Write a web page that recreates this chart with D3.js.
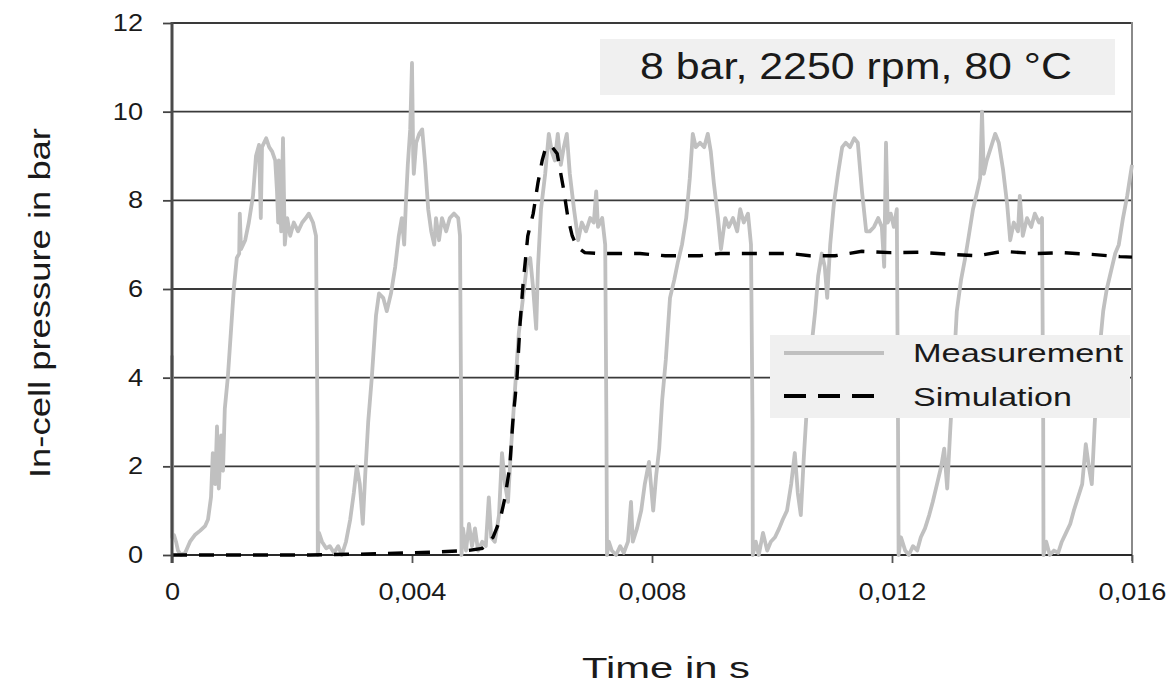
<!DOCTYPE html>
<html>
<head>
<meta charset="utf-8">
<script src="https://cdn.jsdelivr.net/npm/d3@7"></script>
<style>
  html, body { margin: 0; padding: 0; background: #ffffff; }
  svg { display: block; }
  text { font-family: "Liberation Sans", Arial, sans-serif; fill: #1a1a1a; }
</style>
</head>
<body>
<svg id="chart" width="1175" height="687"></svg>
<script>
// ---------------- DATA ----------------
// time in ms, pressure in bar
const measurement = [
  [0,4.5],[0.005,0.4],[0.033,0.45],[0.067,0.3],[0.1,0.1],[0.15,0.0],[0.22,0.05],[0.3,0.3],[0.38,0.45],[0.47,0.55],
  [0.55,0.65],[0.6,0.8],[0.65,1.3],[0.68,2.3],[0.72,1.6],[0.75,2.9],[0.78,1.5],[0.82,2.7],[0.85,1.9],[0.88,3.3],
  [0.93,4.0],[0.98,5.0],[1.03,6.0],[1.08,6.7],[1.12,6.8],[1.13,7.7],[1.15,6.9],[1.22,7.1],[1.28,7.5],[1.35,8.1],
  [1.4,9.0],[1.45,9.25],[1.48,7.6],[1.5,9.2],[1.57,9.4],[1.62,9.2],[1.67,9.1],[1.72,8.9],[1.75,8.2],[1.77,7.5],
  [1.78,8.9],[1.82,7.3],[1.85,9.4],[1.88,7.0],[1.92,7.6],[1.97,7.2],[2.03,7.5],[2.1,7.3],[2.17,7.5],[2.23,7.6],
  [2.28,7.7],[2.35,7.5],[2.4,7.2],[2.425,3.0],[2.43,0.0],
  [2.45,0.5],[2.5,0.3],[2.57,0.15],[2.63,0.2],[2.7,0.05],[2.77,0.2],[2.83,0.0],[2.9,0.3],[2.97,0.8],[3.03,1.4],
  [3.08,2.0],[3.13,1.6],[3.18,0.7],[3.22,1.8],[3.27,3.0],[3.33,4.0],[3.4,5.4],[3.45,5.9],[3.52,5.8],[3.58,5.5],
  [3.65,5.9],[3.72,6.5],[3.78,7.2],[3.83,7.6],[3.87,7.0],[3.9,8.0],[3.93,8.8],[3.97,9.6],[4.0,11.1],[4.02,9.0],
  [4.03,8.6],[4.07,9.3],[4.12,9.5],[4.17,9.6],[4.22,8.8],[4.27,7.8],[4.32,7.3],[4.37,7.0],[4.4,7.6],[4.45,7.1],
  [4.5,7.6],[4.57,7.3],[4.63,7.6],[4.7,7.7],[4.77,7.6],[4.8,7.2],[4.82,3.0],[4.825,0.0],
  [4.85,0.6],[4.9,0.1],[4.95,0.7],[5.0,0.2],[5.05,0.6],[5.1,0.1],[5.17,0.3],[5.23,0.2],[5.28,1.3],[5.32,0.4],
  [5.38,0.3],[5.45,0.9],[5.5,2.3],[5.55,1.6],[5.6,1.2],[5.65,2.4],[5.72,3.8],[5.78,5.0],[5.85,5.8],[5.92,6.6],
  [5.97,6.7],[6.02,6.0],[6.07,5.1],[6.1,6.5],[6.15,7.8],[6.22,8.6],[6.28,9.5],[6.33,9.1],[6.38,8.9],[6.43,9.5],
  [6.48,8.8],[6.53,9.2],[6.58,9.5],[6.63,8.6],[6.7,7.8],[6.77,7.1],[6.83,7.5],[6.9,7.3],[6.97,7.6],[7.03,7.5],
  [7.07,8.2],[7.1,7.4],[7.17,7.6],[7.22,7.0],[7.24,3.0],[7.25,0.0],
  [7.28,0.3],[7.33,0.1],[7.4,0.0],[7.47,0.2],[7.53,0.05],[7.6,0.3],[7.65,1.2],[7.68,0.3],[7.75,0.6],[7.82,1.0],
  [7.88,1.6],[7.95,2.1],[8.02,1.0],[8.07,1.8],[8.12,2.4],[8.17,3.5],[8.23,4.4],[8.3,5.8],[8.37,6.2],[8.43,6.6],
  [8.5,7.0],[8.57,7.6],[8.63,8.5],[8.68,9.5],[8.73,9.2],[8.8,9.3],[8.87,9.2],[8.93,9.5],[8.98,9.1],[9.03,8.4],
  [9.1,7.6],[9.15,6.9],[9.22,7.6],[9.28,7.4],[9.35,7.6],[9.42,7.3],[9.47,7.8],[9.53,7.5],[9.6,7.7],[9.65,7.0],
  [9.675,3.0],[9.68,0.0],
  [9.73,0.3],[9.78,0.0],[9.85,0.5],[9.92,0.1],[9.98,0.3],[10.05,0.4],[10.12,0.6],[10.18,0.8],[10.25,1.0],[10.32,1.6],
  [10.38,2.3],[10.43,1.4],[10.48,0.9],[10.53,2.2],[10.58,3.3],[10.65,4.6],[10.72,5.5],[10.77,6.3],[10.83,6.8],[10.88,6.5],
  [10.92,5.8],[10.97,7.0],[11.03,7.9],[11.1,8.6],[11.17,9.2],[11.23,9.3],[11.3,9.2],[11.37,9.4],[11.43,9.3],[11.5,8.2],
  [11.57,7.3],[11.63,7.3],[11.7,7.4],[11.77,7.6],[11.83,7.4],[11.87,6.5],[11.9,9.3],[11.93,7.5],[11.98,7.7],[12.03,7.4],
  [12.08,7.8],[12.1,3.0],[12.11,0.0],
  [12.15,0.4],[12.22,0.1],[12.28,0.0],[12.35,0.2],[12.42,0.1],[12.48,0.4],[12.55,0.6],[12.62,0.9],[12.68,1.2],[12.75,1.6],
  [12.82,2.0],[12.87,2.4],[12.92,1.5],[12.97,2.8],[13.02,4.0],[13.08,5.5],[13.15,6.2],[13.22,6.7],[13.28,7.2],[13.35,7.8],
  [13.42,8.2],[13.47,8.5],[13.5,10.0],[13.53,8.6],[13.58,8.9],[13.65,9.2],[13.72,9.5],[13.78,9.3],[13.85,8.7],[13.92,7.9],
  [13.97,7.1],[14.03,7.5],[14.1,7.3],[14.13,8.1],[14.18,7.2],[14.25,7.6],[14.32,7.4],[14.38,7.7],[14.45,7.5],[14.5,7.6],
  [14.52,3.0],[14.525,0.0],
  [14.57,0.3],[14.63,0.0],[14.7,0.1],[14.77,0.05],[14.83,0.3],[14.9,0.5],[14.97,0.7],[15.03,1.0],[15.1,1.3],[15.17,1.6],
  [15.23,2.5],[15.28,2.0],[15.33,1.6],[15.38,3.0],[15.45,4.5],[15.52,5.5],[15.58,6.0],[15.65,6.4],[15.72,6.8],[15.78,7.0],
  [15.85,7.6],[15.92,8.1],[16.0,8.8]
];

const simulation = [
  [0,0.0],[2.3,0.0],[3.13,0.02],[3.97,0.05],[4.47,0.07],[4.92,0.1],[5.17,0.15],[5.35,0.4],[5.47,0.8],[5.55,1.3],
  [5.63,2.0],[5.68,3.0],[5.75,4.0],[5.8,5.2],[5.85,6.1],[5.93,7.2],[6.02,7.7],[6.1,8.4],[6.17,8.9],[6.23,9.2],
  [6.32,9.23],[6.42,9.05],[6.52,8.3],[6.6,7.6],[6.67,7.2],[6.75,6.95],[6.88,6.82],[7.13,6.8],[7.8,6.8],[8.22,6.75],
  [8.8,6.75],[9.13,6.8],[9.8,6.8],[10.3,6.8],[10.63,6.75],[11.05,6.75],[11.5,6.85],[11.97,6.82],[12.47,6.83],[12.97,6.78],
  [13.43,6.75],[13.85,6.85],[14.38,6.8],[14.83,6.82],[15.33,6.78],[15.8,6.73],[16.0,6.72]
];

const xTickValues = [0, 0.004, 0.008, 0.012, 0.016];
const xTickLabels = ["0", "0,004", "0,008", "0,012", "0,016"];
const yTickValues = [0, 2, 4, 6, 8, 10, 12];
const yTickLabels = ["0", "2", "4", "6", "8", "10", "12"];
const seriesNames = ["Measurement", "Simulation"];
const titleText = "8 bar, 2250 rpm, 80 °C";
const xTitle = "Time in s";
const yTitle = "In-cell pressure in bar";

// ---------------- LAYOUT ----------------
const svg = d3.select("#chart");
const X0 = 172, X1 = 1132, Y0 = 555, Y1 = 23;
const x = d3.scaleLinear().domain([0, 0.016]).range([X0, X1]);
const y = d3.scaleLinear().domain([0, 12]).range([Y0, Y1]);

// horizontal gridlines
svg.append("g").selectAll("line")
  .data(yTickValues.filter(v => v > 0))
  .join("line")
  .attr("x1", X0).attr("x2", X1)
  .attr("y1", d => y(d)).attr("y2", d => y(d))
  .attr("stroke", "#3a3a3a").attr("stroke-width", 1.8);

// right border
svg.append("line").attr("x1", X1).attr("x2", X1).attr("y1", Y1 - 1).attr("y2", Y0 + 6)
  .attr("stroke", "#8a8a8a").attr("stroke-width", 2);

// Y axis
const yAxis = svg.append("g").attr("transform", `translate(${X0},0)`)
  .call(d3.axisLeft(y).tickValues(yTickValues).tickFormat((d, i) => yTickLabels[i]).tickSize(9).tickPadding(20));
yAxis.select(".domain").remove();
yAxis.selectAll(".tick line").attr("stroke", "#444").attr("stroke-width", 1.8);
yAxis.selectAll(".tick text").attr("font-size", 23).attr("fill", "#1a1a1a")
  .style("font-family", "'Liberation Sans', Arial, sans-serif");

// X axis
const xAxis = svg.append("g").attr("transform", `translate(0,${Y0})`)
  .call(d3.axisBottom(x).tickValues(xTickValues).tickFormat((d, i) => xTickLabels[i]).tickSize(8));
xAxis.select(".domain").remove();
xAxis.selectAll(".tick line").attr("stroke", "#555").attr("stroke-width", 1.8);
xAxis.selectAll(".tick text").attr("font-size", 23).attr("fill", "#1a1a1a")
  .attr("y", 45).attr("dy", 0)
  .style("font-family", "'Liberation Sans', Arial, sans-serif");

// bottom axis line
svg.append("line").attr("x1", X0).attr("x2", X1).attr("y1", Y0).attr("y2", Y0)
  .attr("stroke", "#2a2a2a").attr("stroke-width", 2);

// stretch tick labels horizontally
svg.selectAll(".tick text").each(function () {
  const w = this.getComputedTextLength();
  d3.select(this).attr("textLength", w * 1.18).attr("lengthAdjust", "spacingAndGlyphs");
});

// Lines
const line = d3.line().x(d => x(d[0] / 1000)).y(d => y(d[1]));
svg.append("path").datum(measurement)
  .attr("d", line).attr("fill", "none")
  .attr("stroke", "#c0c0c0").attr("stroke-width", 3.8).attr("stroke-linejoin", "round");
svg.append("path").datum(simulation)
  .attr("d", line).attr("fill", "none")
  .attr("stroke", "#000").attr("stroke-width", 3.4).attr("stroke-dasharray", "15,12");

// left axis line (on top)
svg.append("line").attr("x1", X0).attr("x2", X0).attr("y1", Y1 - 1).attr("y2", Y0 + 8)
  .attr("stroke", "#4a4a4a").attr("stroke-width", 3);

// Title box
svg.append("rect").attr("x", 600).attr("y", 39).attr("width", 515).attr("height", 56).attr("fill", "#f0f0f0");
svg.append("text").attr("x", 856).attr("y", 79).attr("text-anchor", "middle")
  .attr("font-size", 37).attr("textLength", 432).attr("lengthAdjust", "spacingAndGlyphs")
  .text(titleText);

// Legend
const lg = svg.append("g");
lg.append("rect").attr("x", 770).attr("y", 335).attr("width", 360).attr("height", 83).attr("fill", "#f0f0f0");
lg.append("line").attr("x1", 784).attr("x2", 884).attr("y1", 353).attr("y2", 353)
  .attr("stroke", "#c0c0c0").attr("stroke-width", 4);
lg.append("line").attr("x1", 784).attr("x2", 880).attr("y1", 396).attr("y2", 396)
  .attr("stroke", "#000").attr("stroke-width", 4).attr("stroke-dasharray", "22,12");
lg.append("text").attr("x", 913).attr("y", 362).attr("font-size", 26)
  .attr("textLength", 210).attr("lengthAdjust", "spacingAndGlyphs").text(seriesNames[0]);
lg.append("text").attr("x", 913).attr("y", 406).attr("font-size", 26)
  .attr("textLength", 159).attr("lengthAdjust", "spacingAndGlyphs").text(seriesNames[1]);

// Axis titles
svg.append("text").attr("x", 666).attr("y", 678).attr("text-anchor", "middle")
  .attr("font-size", 29).attr("textLength", 168).attr("lengthAdjust", "spacingAndGlyphs")
  .text(xTitle);
svg.append("text").attr("transform", "translate(50,303) rotate(-90)").attr("text-anchor", "middle")
  .attr("font-size", 30).attr("textLength", 350).attr("lengthAdjust", "spacingAndGlyphs")
  .text(yTitle);
</script>
</body>
</html>
